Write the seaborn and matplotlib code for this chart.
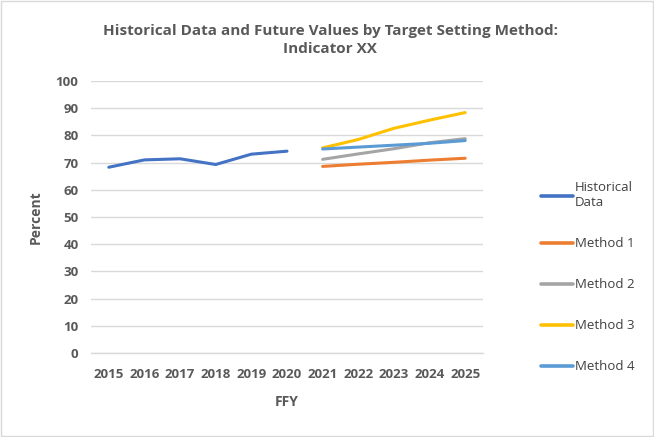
import matplotlib
matplotlib.use("Agg")
import matplotlib.pyplot as plt
import seaborn as sns
import pandas as pd
from matplotlib.patches import Rectangle
from matplotlib.lines import Line2D

years = [2015, 2016, 2017, 2018, 2019, 2020, 2021, 2022, 2023, 2024, 2025]
hist_years = [2015, 2016, 2017, 2018, 2019, 2020]
future_years = [2021, 2022, 2023, 2024, 2025]
historical = [68.3, 71.0, 71.4, 69.3, 73.1, 74.2]
method1 = [68.6, 69.4, 70.1, 70.9, 71.6]
method2 = [71.2, 73.2, 75.1, 77.3, 78.8]
method3 = [75.4, 78.5, 82.6, 85.6, 88.4]
method4 = [75.0, 75.7, 76.4, 77.1, 78.1]
series_names = ["Historical\nData", "Method 1", "Method 2", "Method 3", "Method 4"]
colors = ["#4472C4", "#ED7D31", "#A5A5A5", "#FFC000", "#5B9BD5"]
yticks = [0, 10, 20, 30, 40, 50, 60, 70, 80, 90, 100]

rows = []
for y, v in zip(hist_years, historical):
    rows.append((series_names[0], y, v))
for name, vals in zip(series_names[1:], [method1, method2, method3, method4]):
    for y, v in zip(future_years, vals):
        rows.append((name, y, v))
df = pd.DataFrame(rows, columns=["series", "FFY", "Percent"])

sns.set_theme(style="white")
plt.rcParams["font.family"] = ["Open Sans", "DejaVu Sans"]

fig = plt.figure(figsize=(6.54, 4.37), dpi=100)
ax = fig.add_axes([91 / 654, 1 - 353 / 437, (483 - 91) / 654, (353 - 81) / 437])

sns.lineplot(data=df, x="FFY", y="Percent", hue="series", hue_order=series_names,
             palette=colors, linewidth=2.2, ax=ax, legend=False, sort=True,
             solid_capstyle="round")

ax.set_xlim(2014.5, 2025.5)
ax.set_ylim(0, 100)
ax.set_yticks(yticks)
ax.set_xticks(years)
ax.set_xticklabels([str(y) for y in years])
ax.grid(axis="y", color="#D9D9D9", linewidth=1)
ax.set_axisbelow(True)
for s in ["top", "right", "left"]:
    ax.spines[s].set_visible(False)
ax.spines["bottom"].set_color("#D9D9D9")
ax.spines["bottom"].set_linewidth(1)
ax.tick_params(axis="x", length=0, labelsize=9.5, labelcolor="#595959", pad=11)
ax.tick_params(axis="y", length=0, labelsize=9.5, labelcolor="#595959", pad=9)
for lab in ax.get_xticklabels() + ax.get_yticklabels():
    lab.set_fontweight("bold")

ax.set_xlabel("FFY", fontsize=10, fontweight="bold", color="#595959", labelpad=10)
ax.set_ylabel("Percent", fontsize=10, fontweight="bold", color="#595959", labelpad=9)

fig.text(0.505, 1 - 40 / 437, "Historical Data and Future Values by Target Setting Method:\nIndicator XX",
         ha="center", va="center", fontsize=11, fontweight="bold", color="#595959",
         linespacing=1.4)

handles = [Line2D([], [], color=c, linewidth=2.6) for c in colors]
fig.legend(handles, series_names, loc="upper left", bbox_to_anchor=(536 / 654, 1 - 176 / 437),
           frameon=False, fontsize=9.5, labelspacing=2.12, handlelength=2.4,
           handletextpad=0.15, borderaxespad=0, labelcolor="#404040")

fig.patches.append(Rectangle((0.002, 0.002), 0.996, 0.996, transform=fig.transFigure,
                             fill=False, edgecolor="#D9D9D9", linewidth=1))

fig.savefig("out.png", dpi=100)
